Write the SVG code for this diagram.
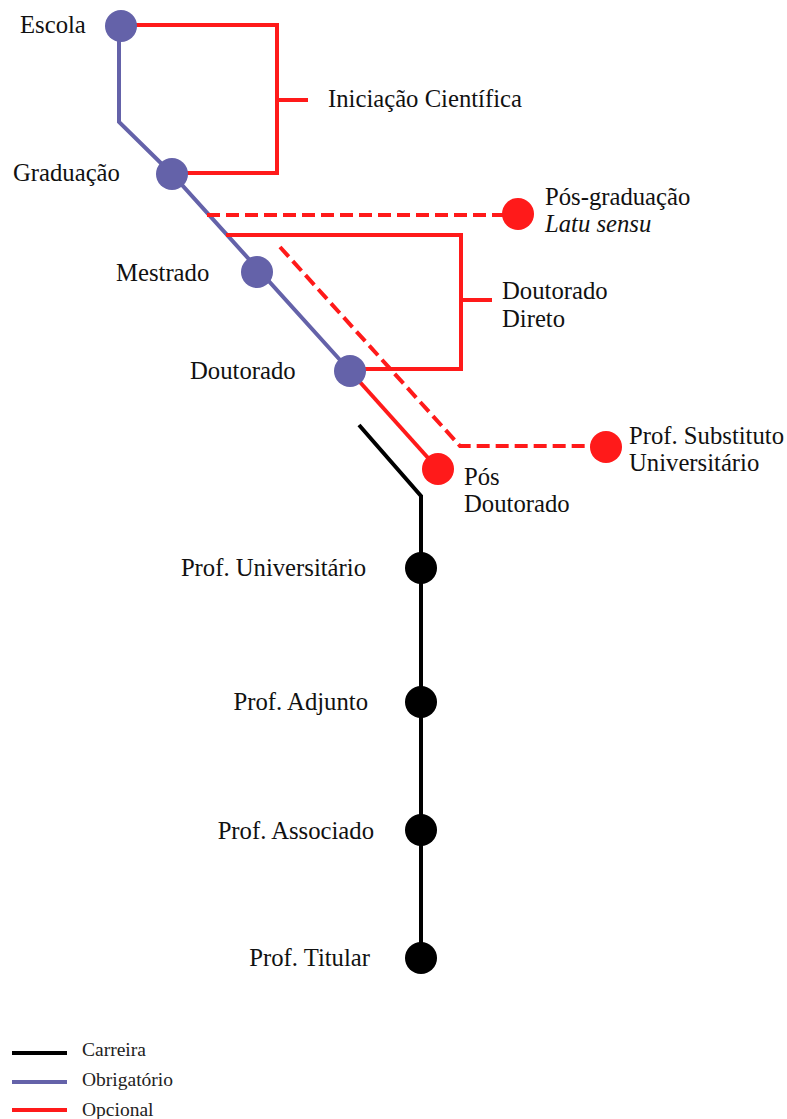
<svg xmlns="http://www.w3.org/2000/svg" width="787" height="1119" viewBox="0 0 787 1119" font-family="'Liberation Serif', 'Times New Roman', serif">
<style>
text{font-family:'Liberation Serif','Times New Roman',serif;font-size:24.7px;fill:#111}
.leg{font-size:19.5px;fill:#222}
.b{stroke:#6462A9;stroke-width:4;fill:none}
.r{stroke:#FF1A1A;stroke-width:4;fill:none}
.d{stroke:#FF1A1A;stroke-width:4;fill:none;stroke-dasharray:13 6}
.k{stroke:#000;stroke-width:4;fill:none}
.nb{fill:#6462A9}
.nr{fill:#FF1A1A}
.nk{fill:#000}
</style>
<g id="connectors">
<polyline class="b" points="119,26 119,122 172,174 350,371"/>
<polyline class="r" points="121,25 277,25 277,173 172,173"/>
<line class="r" x1="277" y1="100" x2="308" y2="100"/>
<line class="d" x1="207" y1="215" x2="518" y2="215"/>
<polyline class="r" points="226,235 461,235 461,369 362,369"/>
<line class="r" x1="461" y1="300" x2="492" y2="300"/>
<polyline class="d" points="280,247 460,446 606,446"/>
<line class="r" x1="350" y1="371" x2="438" y2="469"/>
<polyline class="k" points="359,425 421,496 421,958"/>
</g>
<g id="escola"><circle class="nb" cx="121" cy="26" r="16"/><text x="20" y="33">Escola</text></g>
<g id="graduacao"><circle class="nb" cx="172" cy="174" r="16"/><text x="13" y="181">Graduação</text></g>
<g id="mestrado"><circle class="nb" cx="257" cy="272" r="16"/><text x="116" y="281">Mestrado</text></g>
<g id="doutorado"><circle class="nb" cx="350" cy="371" r="16"/><text x="190" y="379">Doutorado</text></g>
<g id="iniciacao"><text x="328" y="107">Iniciação Científica</text></g>
<g id="posgrad"><circle class="nr" cx="518" cy="214" r="16"/><text x="545" y="205">Pós-graduação</text><text x="545" y="232" font-style="italic">Latu sensu</text></g>
<g id="doutdireto"><text x="502" y="299">Doutorado</text><text x="502" y="327">Direto</text></g>
<g id="substituto"><circle class="nr" cx="606" cy="447" r="16"/><text x="629" y="444">Prof. Substituto</text><text x="629" y="471">Universitário</text></g>
<g id="posdout"><circle class="nr" cx="438" cy="469" r="16"/><text x="464" y="485">Pós</text><text x="464" y="512">Doutorado</text></g>
<g id="univ"><circle class="nk" cx="421" cy="568" r="16"/><text x="366" y="576" text-anchor="end">Prof. Universitário</text></g>
<g id="adjunto"><circle class="nk" cx="421" cy="702" r="16"/><text x="368" y="710" text-anchor="end">Prof. Adjunto</text></g>
<g id="associado"><circle class="nk" cx="421" cy="830" r="16"/><text x="374" y="839" text-anchor="end">Prof. Associado</text></g>
<g id="titular"><circle class="nk" cx="421" cy="958" r="16"/><text x="370" y="966" text-anchor="end">Prof. Titular</text></g>
<g id="legend">
<line x1="12" y1="1053" x2="67" y2="1053" stroke="#000" stroke-width="4"/>
<line x1="12" y1="1082" x2="67" y2="1082" stroke="#6462A9" stroke-width="4"/>
<line x1="12" y1="1110" x2="67" y2="1110" stroke="#FF1A1A" stroke-width="4"/>
<text class="leg" x="82" y="1056">Carreira</text>
<text class="leg" x="82" y="1086">Obrigatório</text>
<text class="leg" x="82" y="1116">Opcional</text>
</g>
</svg>
